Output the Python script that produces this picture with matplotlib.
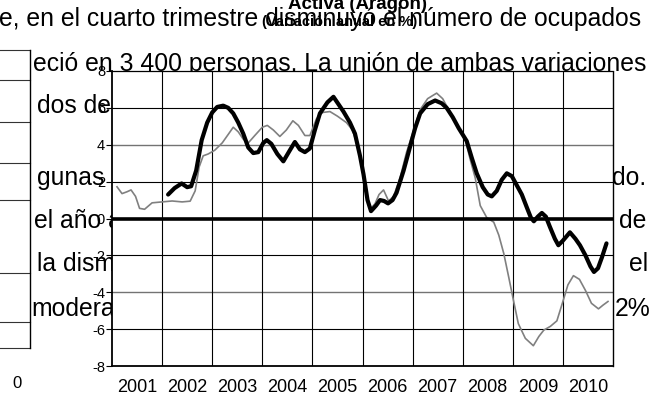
import matplotlib
matplotlib.use('Agg')
import matplotlib.pyplot as plt
from matplotlib import font_manager
from matplotlib.lines import Line2D

W, H = 650, 403

# ---------------- data ----------------
year_labels = [str(y) for y in range(2001, 2011)]
y_ticks = [-8, -6, -4, -2, 0, 2, 4, 6, 8]

ocupados_x = [2001.10, 2001.20, 2001.30, 2001.38, 2001.47, 2001.55, 2001.65, 2001.80, 2002.00, 2002.20,
              2002.40, 2002.56, 2002.66, 2002.74, 2002.82, 2002.92, 2003.05, 2003.20, 2003.33, 2003.42,
              2003.52, 2003.62, 2003.72, 2003.85, 2004.00, 2004.10, 2004.22, 2004.35, 2004.48, 2004.61,
              2004.72, 2004.85, 2004.95, 2005.08, 2005.20, 2005.35, 2005.50, 2005.68, 2005.80, 2005.92,
              2006.05, 2006.15, 2006.25, 2006.33, 2006.42, 2006.52, 2006.62, 2006.75, 2006.88, 2007.00,
              2007.15, 2007.30, 2007.48, 2007.60, 2007.72, 2007.88, 2008.05, 2008.15, 2008.25, 2008.35,
              2008.48, 2008.62, 2008.72, 2008.82, 2008.92, 2009.01, 2009.11, 2009.25, 2009.41, 2009.52,
              2009.62, 2009.75, 2009.88, 2010.00, 2010.10, 2010.21, 2010.33, 2010.45, 2010.57, 2010.71,
              2010.80, 2010.90]
ocupados_y = [1.72, 1.35, 1.45, 1.55, 1.2, 0.55, 0.5, 0.85, 0.9, 0.95,
              0.9, 0.94, 1.5, 2.8, 3.4, 3.5, 3.7, 4.1, 4.6, 4.95,
              4.7, 4.3, 4.1, 4.5, 4.95, 5.05, 4.8, 4.45, 4.8, 5.3,
              5.05, 4.5, 4.5, 5.4, 5.75, 5.8, 5.55, 5.2, 4.8, 3.8,
              1.8, 0.5, 0.8, 1.3, 1.55, 0.95, 1.2, 2.2, 3.6, 4.6,
              5.9, 6.5, 6.8, 6.5, 5.9, 5.1, 4.3, 3.2, 2.2, 0.7,
              0.05, -0.2, -0.9, -1.9, -3.2, -4.4, -5.7, -6.5, -6.9, -6.4,
              -6.05, -5.85, -5.55, -4.5, -3.6, -3.1, -3.3, -3.9, -4.6, -4.9,
              -4.7, -4.5]

activa_x = [2002.12, 2002.25, 2002.39, 2002.50, 2002.58, 2002.68, 2002.79, 2002.90, 2003.00, 2003.10,
            2003.22, 2003.32, 2003.42, 2003.52, 2003.62, 2003.72, 2003.82, 2003.92, 2004.02, 2004.09,
            2004.18, 2004.30, 2004.42, 2004.55, 2004.65, 2004.75, 2004.85, 2004.95, 2005.05, 2005.15,
            2005.30, 2005.42, 2005.52, 2005.62, 2005.75, 2005.85, 2005.95, 2006.02, 2006.10, 2006.17,
            2006.27, 2006.35, 2006.43, 2006.51, 2006.60, 2006.68, 2006.82, 2006.95, 2007.05, 2007.15,
            2007.30, 2007.45, 2007.58, 2007.68, 2007.80, 2007.92, 2008.08, 2008.18, 2008.28, 2008.40,
            2008.50, 2008.58, 2008.68, 2008.78, 2008.88, 2008.98, 2009.08, 2009.18, 2009.28, 2009.36,
            2009.42, 2009.50, 2009.58, 2009.66, 2009.74, 2009.84, 2009.91, 2010.00, 2010.14, 2010.25,
            2010.34, 2010.45, 2010.55, 2010.62, 2010.70, 2010.78, 2010.87]
activa_y = [1.3, 1.65, 1.9, 1.7, 1.75, 2.6, 4.25, 5.2, 5.75, 6.05,
            6.12, 6.0, 5.7, 5.2, 4.6, 3.85, 3.55, 3.6, 4.1, 4.25,
            4.05, 3.5, 3.1, 3.7, 4.15, 3.75, 3.6, 3.8, 4.8, 5.7,
            6.3, 6.6, 6.2, 5.8, 5.2, 4.6, 3.4, 2.4, 1.0, 0.4,
            0.7, 1.0, 0.95, 0.82, 1.0, 1.4, 2.6, 3.9, 4.9, 5.7,
            6.2, 6.4, 6.25, 6.0, 5.5, 4.9, 4.2, 3.3, 2.45, 1.7,
            1.3, 1.2, 1.5, 2.1, 2.45, 2.3, 1.8, 1.3, 0.6, 0.05,
            -0.15, 0.1, 0.3, 0.1, -0.45, -1.1, -1.45, -1.2, -0.75, -1.1,
            -1.45, -2.0, -2.6, -2.9, -2.7, -2.1, -1.35]

# ---------------- fonts ----------------
def has_font(name):
    try:
        font_manager.findfont(font_manager.FontProperties(family=name), fallback_to_default=False)
        return True
    except Exception:
        return False

if has_font('Liberation Sans Narrow'):
    body_family, body_size = 'Liberation Sans Narrow', 20.5
else:
    body_family, body_size = 'Liberation Sans', 17.8
plt.rcParams['font.family'] = ['Liberation Sans', 'DejaVu Sans']

fig = plt.figure(figsize=(W / 100, H / 100), dpi=100)


def fx(x):
    return x / W


def fy(y):
    return 1 - y / H


def body(x, y, s, ha='left'):
    fig.text(fx(x), fy(y), s, ha=ha, va='baseline', family=body_family,
             fontsize=body_size, color='black', zorder=1)

# background text of the scanned page
body(-1, 26, 'e, en el cuarto trimestre disminuyó el número de ocupados')
body(33, 71, 'eció en 3 400 personas. La unión de ambas variaciones')
body(37, 113, 'dos de 16')
body(37, 185, 'gunas dife')
body(646, 185, 'do.', ha='right')
body(34, 228, 'el año ante')
body(646, 228, 'de', ha='right')
body(37, 271, 'la dismin')
body(648, 271, 'el', ha='right')
body(31, 316, 'moderado')
body(651, 316, '2%', ha='right')
fig.text(fx(17), fy(384), '0', ha='center', va='center', fontsize=12, zorder=1)

# fragment of the neighbouring chart at the far left
for yy in [50, 80, 122, 163, 200, 273, 322, 348]:
    fig.add_artist(Line2D([fx(0), fx(30)], [fy(yy), fy(yy)], color='0.2', lw=0.8, zorder=1))
fig.add_artist(Line2D([fx(30), fx(30)], [fy(50), fy(348)], color='black', lw=1.0, zorder=1))

# titles
fig.text(fx(357), fy(9), 'Activa (Aragón)', ha='center', va='baseline',
         fontsize=13.5, fontweight='bold', zorder=3)
fig.text(fx(340), fy(26), '(Variación anual en %)', ha='center', va='baseline',
         fontsize=10.5, fontweight='bold', zorder=3)

# ---------------- chart ----------------
ax = fig.add_axes([fx(112), fy(366), (613 - 112) / W, (366 - 71) / H])
ax.set_zorder(2)
ax.patch.set_facecolor('white')

ax.set_xlim(2001, 2011)
ax.set_ylim(-8, 8)

for v, c, lw in [(6, 'black', 0.8), (4, '0.45', 1.0), (2, 'black', 0.8),
                 (-2, 'black', 0.8), (-4, '0.45', 1.0), (-6, 'black', 0.8)]:
    ax.axhline(v, color=c, lw=lw, zorder=1)
for yr in range(2002, 2011):
    ax.axvline(yr, color='black', lw=0.8, zorder=1)

ax.plot(ocupados_x, ocupados_y, color='0.5', lw=1.2, zorder=2)
ax.axhline(0, color='black', lw=2.6, zorder=3)
ax.plot(activa_x, activa_y, color='black', lw=3.0, zorder=4,
        solid_joinstyle='round', solid_capstyle='round')

ax.set_xticks([2001.5 + i for i in range(len(year_labels))])
ax.set_xticklabels(year_labels, fontsize=13)
ax.tick_params(axis='x', length=0, pad=9)
ax.set_yticks(y_ticks)
ax.set_yticklabels([str(v) for v in y_ticks], fontsize=10.5)
ax.tick_params(axis='y', length=4, width=0.8, pad=1, direction='out')

for side in ['left', 'bottom']:
    ax.spines[side].set_linewidth(1.3)
ax.spines['top'].set_linewidth(0.9)
ax.spines['right'].set_linewidth(1.0)
ax.spines['right'].set_linestyle((0, (2, 1)))

fig.savefig('out.png', dpi=100)
